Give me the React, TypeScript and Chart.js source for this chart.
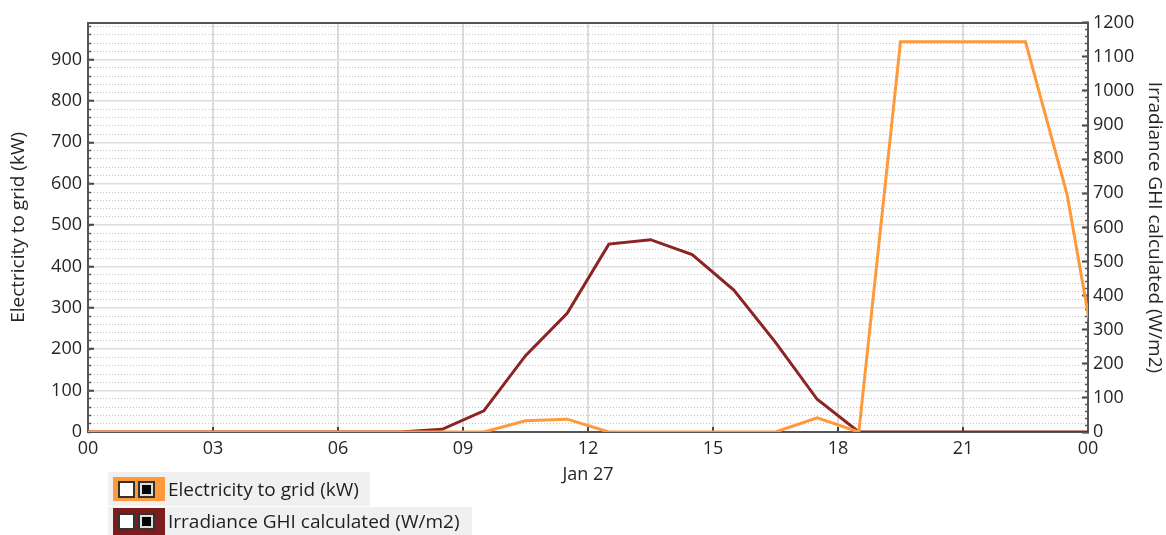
import React, { useEffect, useRef } from "react";
import { Chart, registerables } from "chart.js";

Chart.register(...registerables);

// Hour of day (half-hour centred hourly samples), Jan 27
const hours = [-0.5, 0.5, 1.5, 2.5, 3.5, 4.5, 5.5, 6.5, 7.5, 8.5, 9.5, 10.5, 11.5, 12.5, 13.5, 14.5, 15.5, 16.5, 17.5, 18.5, 19.5, 20.5, 21.5, 22.5, 23.5, 24.5];
const electricityToGrid = [0, 0, 0, 0, 0, 0, 0, 0, 0, 0, 0, 27, 31, 0, 0, 0, 0, 0, 34, 0, 943, 943, 943, 943, 573, 0];
const irradianceGHI = [0, 0, 0, 0, 0, 0, 0, 0, 0, 8, 62, 224, 348, 551, 564, 520, 416, 263, 96, 0, 0, 0, 0, 0, 0, 0];
const xTickLabels = ["00", "03", "06", "09", "12", "15", "18", "21", "00"];
const dateLabel = "Jan 27";
const seriesNames = ["Electricity to grid (kW)", "Irradiance GHI calculated (W/m2)"];
const seriesColors = ["#ff9a3c", "#8c2424"];
const leftAxisTitle = "Electricity to grid (kW)";
const rightAxisTitle = "Irradiance GHI calculated (W/m2)";

const FONT = "'Open Sans', 'Noto Sans', sans-serif";
const TEXT = "#262626";
const FRAME = "#555555";
const TICK_SIZE = 18;
const TITLE_SIZE = 19;

export default function App() {
  const ref = useRef<HTMLCanvasElement | null>(null);

  useEffect(() => {
    if (!ref.current) return;
    const toXY = (vals: number[]) => vals.map((v, i) => ({ x: hours[i], y: v }));
    const chart = new Chart(ref.current, {
      type: "line",
      data: {
        datasets: [
          {
            label: seriesNames[0],
            data: toXY(electricityToGrid),
            borderColor: seriesColors[0],
            backgroundColor: seriesColors[0],
            borderWidth: 3,
            pointRadius: 0,
            yAxisID: "y",
            order: 0,
          },
          {
            label: seriesNames[1],
            data: toXY(irradianceGHI),
            borderColor: seriesColors[1],
            backgroundColor: seriesColors[1],
            borderWidth: 3,
            pointRadius: 0,
            yAxisID: "y1",
            order: 1,
          },
        ],
      },
      options: {
        animation: false,
        responsive: true,
        maintainAspectRatio: false,
        layout: { padding: { top: 19, left: 0, right: 0, bottom: 0 } },
        plugins: { legend: { display: false }, tooltip: { enabled: false } },
        scales: {
          x: {
            type: "linear",
            position: "bottom",
            min: 0,
            max: 24,
            ticks: {
              stepSize: 3,
              autoSkip: false,
              maxRotation: 0,
              padding: 11,
              color: TEXT,
              font: { family: FONT, size: TICK_SIZE },
              callback: (_v: any, i: number) => xTickLabels[i],
            },
            grid: { color: "#dcdcdc", lineWidth: 2, drawTicks: true, tickLength: -5, tickColor: "#444", tickWidth: 2 },
            border: { color: FRAME, width: 2 },
            title: { display: true, text: dateLabel, color: TEXT, font: { family: FONT, size: TICK_SIZE }, padding: { top: 0, bottom: 49 } },
            afterFit: (s: any) => { s.height = 103; },
          },
          xTop: {
            type: "linear",
            position: "top",
            min: 0,
            max: 24,
            ticks: { display: false },
            grid: { drawOnChartArea: false, drawTicks: false },
            border: { color: FRAME, width: 2 },
            afterFit: (s: any) => { s.height = 0; },
          },
          y: {
            type: "linear",
            position: "left",
            weight: 1,
            min: 0,
            max: 989,
            ticks: {
              stepSize: 100,
              includeBounds: false,
              autoSkip: false,
              padding: 12,
              color: TEXT,
              font: { family: FONT, size: TICK_SIZE },
              callback: (v: any) => String(v),
            },
            grid: { color: "#dedede", lineWidth: 1.5, drawTicks: true, tickLength: -6, tickColor: "#444", tickWidth: 2 },
            border: { color: FRAME, width: 2 },
            title: { display: true, text: leftAxisTitle, color: TEXT, font: { family: FONT, size: TITLE_SIZE }, padding: { top: 7, bottom: 0 } },
            afterFit: (s: any) => { s.width = 88; },
          },
          yMinor: {
            type: "linear",
            position: "left",
            weight: 0,
            min: 0,
            max: 989,
            ticks: { display: false, stepSize: 20, includeBounds: false, autoSkip: false },
            grid: {
              color: (c: any) => (c.tick && c.tick.value % 100 === 0 ? "rgba(0,0,0,0)" : "#c4c4c4"),
              lineWidth: 1,
              drawTicks: true,
              tickLength: -3,
              tickColor: "#555",
              tickWidth: 1.5,
            },
            border: { display: false, dash: [1, 2] },
            afterFit: (s: any) => { s.width = 0; },
          },
          y1: {
            type: "linear",
            position: "right",
            weight: 1,
            min: 0,
            max: 1200,
            ticks: {
              stepSize: 100,
              autoSkip: false,
              padding: 11,
              color: TEXT,
              font: { family: FONT, size: TICK_SIZE },
              callback: (v: any) => String(v),
            },
            grid: { drawOnChartArea: false, drawTicks: true, tickLength: -6, tickColor: "#444", tickWidth: 2 },
            border: { color: FRAME, width: 2 },
            title: { display: true, text: rightAxisTitle, color: TEXT, font: { family: FONT, size: TITLE_SIZE }, padding: { top: 0, bottom: 0 } },
            afterFit: (s: any) => { s.width = 78; },
          },
          y1Minor: {
            type: "linear",
            position: "right",
            weight: 0,
            min: 0,
            max: 1200,
            ticks: { display: false, stepSize: 20, autoSkip: false },
            grid: { drawOnChartArea: false, drawTicks: true, tickLength: -3, tickColor: "#555", tickWidth: 1.5 },
            border: { display: false },
            afterFit: (s: any) => { s.width = 0; },
          },
        },
      } as any,
    });
    return () => chart.destroy();
  }, []);

  const swatch = (color: string, top: number, height: number) => (
    <div style={{ position: "absolute", left: 113, top, width: 52, height, background: color }}>
      <div style={{ position: "absolute", left: 5, top: (height - 17) / 2, width: 13, height: 13, border: "2px solid #333", background: "#fff" }} />
      <div style={{ position: "absolute", left: 25, top: (height - 17) / 2, width: 13, height: 13, border: "2px solid #333", background: "#ddd" }}>
        <div style={{ position: "absolute", left: 2, top: 2, width: 9, height: 9, background: "#000" }} />
      </div>
    </div>
  );

  const label = (text: string, top: number) => (
    <div style={{ position: "absolute", left: 168, top, fontFamily: FONT, fontSize: TITLE_SIZE, color: "#1e1e1e", lineHeight: "22px", whiteSpace: "nowrap" }}>
      {text}
    </div>
  );

  return (
    <div style={{ position: "absolute", left: 0, top: 0, width: 1166, height: 535, background: "#fff", overflow: "hidden" }}>
      <canvas ref={ref} />
      <div style={{ position: "absolute", left: 108, top: 472, width: 262, height: 34, background: "#f0f0f0" }} />
      <div style={{ position: "absolute", left: 108, top: 507, width: 364, height: 28, background: "#f0f0f0" }} />
      {swatch(seriesColors[0], 477, 24)}
      {swatch("#7d1c1c", 508, 27)}
      {label(seriesNames[0], 478)}
      {label(seriesNames[1], 510)}
    </div>
  );
}
